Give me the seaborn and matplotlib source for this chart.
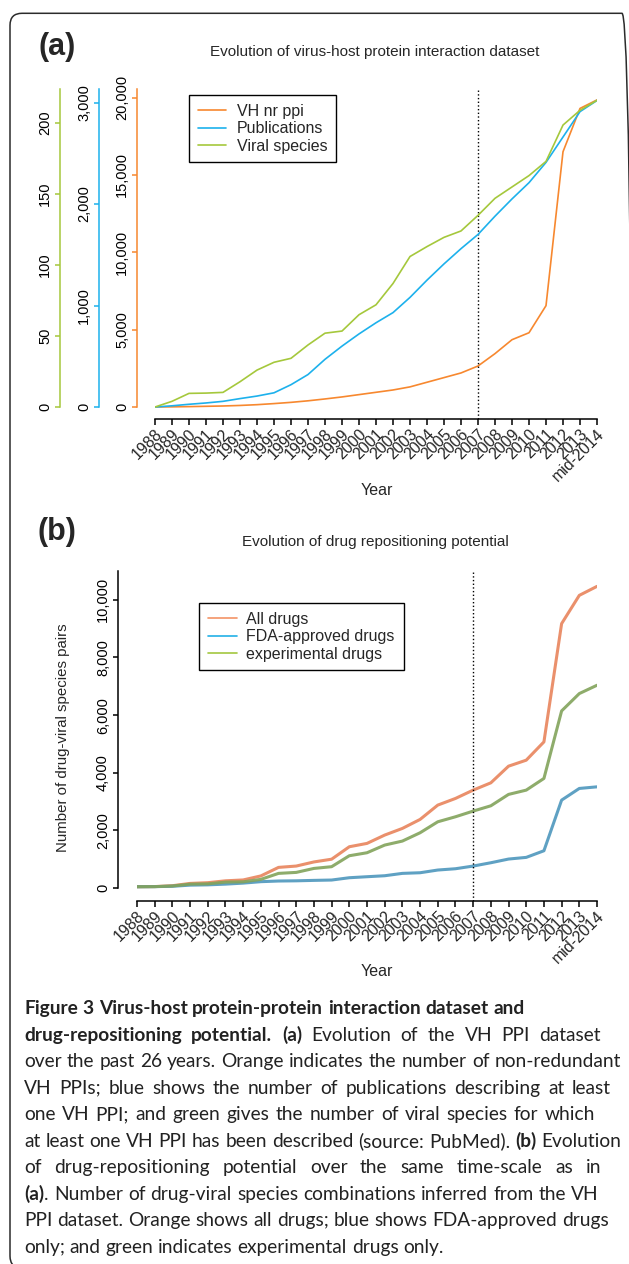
import matplotlib
matplotlib.use("Agg")
import matplotlib.pyplot as plt
import pandas as pd
import seaborn as sns
from matplotlib import font_manager
from matplotlib.lines import Line2D
from matplotlib.patches import FancyBboxPatch
from matplotlib.ticker import FuncFormatter
from matplotlib.transforms import IdentityTransform, ScaledTranslation

years = [str(y) for y in range(1988, 2014)] + ["mid-2014"]

# panel (a): VH PPI dataset
vh_ppi = [0, 10, 25, 45, 65, 100, 150, 220, 300, 400, 520, 650, 800, 950, 1100,
          1300, 1600, 1900, 2200, 2650, 3450, 4350, 4800, 6550, 16500, 19300, 19850]
publications = [0, 12, 27, 40, 56, 83, 108, 140, 220, 320, 470, 600, 720, 830, 930,
                1080, 1250, 1410, 1560, 1700, 1880, 2050, 2210, 2410, 2660, 2910, 3020]
viral_species = [0, 4, 9.6, 9.8, 10.3, 17.8, 26, 31.5, 34.3, 43.7, 52, 53.5, 65, 72, 87,
                 106, 113, 119.5, 124, 135, 147, 155, 163, 173, 198.6, 209, 216]

# panel (b): drug repositioning potential
all_drugs = [45, 50, 80, 160, 185, 250, 280, 420, 716, 762, 905, 1000, 1432, 1548, 1837,
             2068, 2380, 2877, 3108, 3397, 3650, 4228, 4436, 5070, 9174, 10155, 10467]
fda_drugs = [45, 48, 60, 100, 110, 135, 170, 220, 243, 250, 265, 277, 357, 392, 426,
             508, 530, 624, 669, 762, 877, 1005, 1063, 1293, 3050, 3455, 3511]
exp_drugs = [45, 48, 70, 135, 145, 205, 215, 300, 508, 542, 680, 740, 1120, 1224, 1490,
             1629, 1917, 2298, 2472, 2669, 2853, 3248, 3397, 3802, 6145, 6747, 7036]

caption_lines = [
    "**Figure 3 Virus-host protein-protein interaction dataset and**",
    "**drug-repositioning potential. (a)** Evolution of the VH PPI dataset",
    "over the past 26 years. Orange indicates the number of non-redundant",
    "VH PPIs; blue shows the number of publications describing at least",
    "one VH PPI; and green gives the number of viral species for which",
    "at least one VH PPI has been described (source: PubMed). **(b)** Evolution",
    "of drug-repositioning potential over the same time-scale as in",
    "**(a)**. Number of drug-viral species combinations inferred from the VH",
    "PPI dataset. Orange shows all drugs; blue shows FDA-approved drugs",
    "only; and green indicates experimental drugs only.",
]
# right edge (px) of justified lines; None = natural spacing
caption_right = [None, 601, 621, 611, 595, 621, 601, 599, 609, None]

OR_A, BL_A, GR_A = "#F7882F", "#1DB1EC", "#A5C83C"
OR_B, BL_B, GR_B = "#E8845C", "#4E97BD", "#82A35B"
OR_L, BL_L, GR_L = "#F39466", "#22B0E6", "#A3C73F"

W, H = 629, 1264
PT = 0.72  # points per pixel at 100 dpi

sns.set_theme(style="ticks")
plt.rcParams["font.family"] = ["Liberation Sans", "DejaVu Sans"]
installed = {f.name for f in font_manager.fontManager.ttflist}
CAP_FONT = "Lato" if "Lato" in installed else "DejaVu Sans"

fig = plt.figure(figsize=(W / 100, H / 100), dpi=100)


def rect(l, t, r, b):
    return [l / W, 1 - b / H, (r - l) / W, (b - t) / H]


def fx(x):
    return x / W


def fy(y):
    return 1 - y / H


thousands = FuncFormatter(lambda v, p: f"{int(v):,}")
pos = list(range(len(years)))
nudge = ScaledTranslation(5 / 100, 0, fig.dpi_scale_trans)


def left_axis(a, color, out_px, top, ticks):
    for s in ("top", "right", "bottom"):
        a.spines[s].set_visible(False)
    sp = a.spines["left"]
    sp.set_visible(True)
    sp.set_color(color)
    sp.set_linewidth(1.1)
    sp.set_position(("outward", out_px * PT))
    sp.set_bounds(0, top)
    a.yaxis.set_ticks_position("left")
    a.set_yticks(list(ticks))
    a.yaxis.set_major_formatter(thousands)
    a.tick_params(axis="y", color=color, labelcolor="black", length=5 * PT, width=1.1,
                  pad=2, labelsize=10.5, labelrotation=90)
    plt.setp(a.get_yticklabels(), va="center")
    a.set_ylabel("")


def year_axis(a):
    a.set_xlim(0, len(years) - 1)
    a.spines["bottom"].set_visible(True)
    a.spines["bottom"].set_color("black")
    a.spines["bottom"].set_linewidth(1.1)
    a.set_xticks(pos, labels=years)
    a.tick_params(axis="x", color="black", length=6 * PT, width=1.1, pad=5, labelsize=11.5)
    for lab in a.get_xticklabels():
        lab.set(rotation=45, ha="right", va="center", rotation_mode="anchor")
        lab.set_transform(lab.get_transform() + nudge)
    a.set_xlabel("")


# ---- panel (a)
df_a = pd.DataFrame({"pos": pos, "vh": vh_ppi, "pub": publications, "sp": viral_species})
ax = fig.add_axes(rect(155, 89, 597, 419))
ax_pub = ax.twinx()
ax_sp = ax.twinx()
sns.lineplot(data=df_a, x="pos", y="vh", ax=ax, color=OR_A, lw=1.2)
sns.lineplot(data=df_a, x="pos", y="pub", ax=ax_pub, color=BL_A, lw=1.2)
sns.lineplot(data=df_a, x="pos", y="sp", ax=ax_sp, color=GR_A, lw=1.2)
ax.set_ylim(-776, 20556)
ax_pub.set_ylim(-118, 3133)
ax_sp.set_ylim(-8.45, 224)
left_axis(ax, OR_A, 18, 20556, range(0, 20001, 5000))
left_axis(ax_pub, BL_A, 56, 3133, range(0, 3001, 1000))
left_axis(ax_sp, GR_A, 95, 224, range(0, 201, 50))
year_axis(ax)
ax.axvline(19, color="black", ls=":", lw=1)

hd = [Line2D([], [], color=c, lw=1.2) for c in (OR_A, BL_A, GR_A)]
leg = ax_sp.legend(hd, ["VH nr ppi", "Publications", "Viral species"], loc="upper left",
                   bbox_to_anchor=(fx(189), fy(95)), bbox_transform=fig.transFigure,
                   fancybox=False, edgecolor="black", framealpha=1, fontsize=11.5,
                   handlelength=1.75, handletextpad=0.7, labelspacing=0.15,
                   borderpad=0.55, borderaxespad=0)
leg.get_frame().set_linewidth(1.0)

# ---- panel (b)
df_b = pd.DataFrame({"pos": pos, "All drugs": all_drugs,
                     "FDA-approved drugs": fda_drugs, "experimental drugs": exp_drugs})
long_b = df_b.melt(id_vars="pos", var_name="group", value_name="pairs")
bx = fig.add_axes(rect(137, 571, 597, 900.7))
sns.lineplot(data=long_b, x="pos", y="pairs", hue="group", palette=[OR_B, BL_B, GR_B],
             lw=2.2, alpha=0.9, legend=False, ax=bx)
bx.set_ylim(-440, 11000)
left_axis(bx, "black", 19.3, 11000, range(0, 10001, 2000))
year_axis(bx)
bx.axvline(19, color="black", ls=":", lw=1)

hd = [Line2D([], [], color=c, lw=1.2) for c in (OR_L, BL_L, GR_L)]
leg = bx.legend(hd, ["All drugs", "FDA-approved drugs", "experimental drugs"], loc="upper left",
                bbox_to_anchor=(fx(199), fy(603)), bbox_transform=fig.transFigure,
                fancybox=False, edgecolor="black", framealpha=1, fontsize=11.5,
                handlelength=1.8, handletextpad=0.62, labelspacing=0.15,
                borderpad=0.55, borderaxespad=0)
leg.get_frame().set_linewidth(1.0)

# ---- texts
fig.text(fx(57), fy(47), "(a)", fontsize=22, fontweight="bold", ha="center", va="center")
fig.text(fx(57), fy(532), "(b)", fontsize=22, fontweight="bold", ha="center", va="center")
fig.text(fx(375), fy(52), "Evolution of virus-host protein interaction dataset",
         fontsize=11, ha="center", va="center")
fig.text(fx(375), fy(542), "Evolution of drug repositioning potential",
         fontsize=11, ha="center", va="center")
fig.text(fx(377), fy(490), "Year", fontsize=11.5, ha="center", va="center")
fig.text(fx(377), fy(972), "Year", fontsize=11.5, ha="center", va="center")
fig.text(fx(63), fy(738), "Number of drug-viral species pairs", rotation=90,
         fontsize=10.8, ha="center", va="center")

frame = FancyBboxPatch((10, -4), 624, 1254.7, boxstyle="round,pad=0,rounding_size=12",
                       transform=IdentityTransform(), fill=False, ec="#2b2b2b", lw=1.1)
fig.add_artist(frame)

# ---- caption (justified lines, mixed bold runs)
renderer = fig.canvas.get_renderer()


def measure(s, size, bold):
    t = fig.text(0, 0, s, fontsize=size, fontweight="bold" if bold else "normal", family=CAP_FONT)
    w = t.get_window_extent(renderer).width
    t.remove()
    return w


parsed = []
for line in caption_lines:
    bold = False
    words = []
    for wd in line.split(" "):
        runs = []
        for k, part in enumerate(wd.split("**")):
            if k > 0:
                bold = not bold
            if part:
                runs.append((part, bold))
        words.append(runs)
    parsed.append(words)


def word_widths(words, size):
    return [sum(measure(p, size, b) for p, b in runs) for runs in words]


base = 10
space10 = measure("a a", base, False) - measure("aa", base, False)
ratio = 0
for words, right in zip(parsed, caption_right):
    if right is None:
        continue
    nat = sum(word_widths(words, base)) + space10 * (len(words) - 1)
    ratio = max(ratio, nat / (right - 24))
cap_size = base / ratio
space = space10 / ratio

for i, (words, right) in enumerate(zip(parsed, caption_right)):
    widths = word_widths(words, cap_size)
    gap = space if right is None else (right - 24 - sum(widths)) / (len(words) - 1)
    x = 24
    yb = 1014.3 + 26.5 * i
    for runs, w in zip(words, widths):
        xx = x
        for part, b in runs:
            fig.text(fx(xx), fy(yb), part, fontsize=cap_size, family=CAP_FONT, color="#222222",
                     fontweight="bold" if b else "normal", ha="left", va="baseline")
            xx += measure(part, cap_size, b)
        x += w + gap

fig.savefig("out.png", dpi=100)
